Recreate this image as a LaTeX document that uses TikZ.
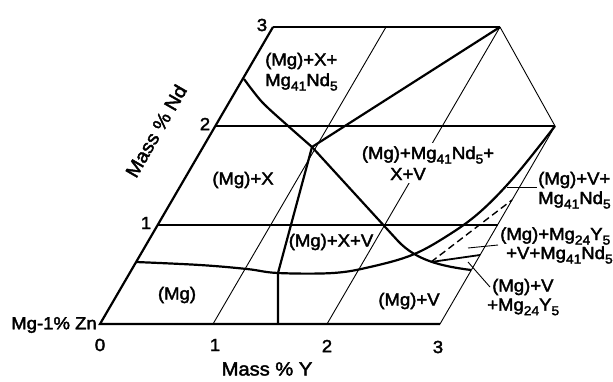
\documentclass[tikz,border=0pt]{standalone}
\usepackage{fontspec}
\setmainfont{Liberation Sans}[FakeStretch=1.06, FakeBold=2.2]
\newcommand\sbs[1]{\raisebox{-4.5pt}{\fontsize{13}{13}\selectfont #1}}
\begin{document}
\begin{tikzpicture}[x=1pt,y=-1pt,
  gridline/.style={line width=0.9pt},
  edgeline/.style={line width=1.3pt},
  bound/.style={line width=2.2pt},
  lbl/.style={font=\fontsize{17.5}{20}\selectfont, inner sep=0pt},
  axt/.style={font=\fontsize{19}{22}\selectfont, inner sep=0pt}]
\useasboundingbox (0,0) rectangle (613,381);
% corners
\coordinate (O) at (100,324);
\coordinate (Y3) at (440,324);
\coordinate (N3) at (273,27);
\coordinate (TR) at (500,27);
\coordinate (R) at (555,126);
% grid
\coordinate (y1b) at (213,324);
\coordinate (y1t) at (386,27);
\coordinate (y2b) at (327,324);
\coordinate (n1l) at (158,225);
\coordinate (n1r) at (498,225);
\coordinate (n2l) at (215,126);
\draw[gridline] (y1b) -- (y1t);
\draw[gridline] (y2b) -- (TR);
\draw[edgeline] (n1l) -- (n1r);
\draw[edgeline] (n2l) -- (R);
\draw[gridline] (TR) -- (R) -- (Y3);
\draw[edgeline] (N3) -- (TR);
% phase boundaries
\coordinate (T) at (312,147);
\coordinate (A) at (244,79);
\coordinate (B) at (278,273);
\coordinate (Bb) at (278,324);
\coordinate (J) at (431,262);
\coordinate (Ej) at (471,270);
\coordinate (Ek) at (480,255);
\coordinate (Ed) at (512,200);
\draw[bound] plot[smooth] coordinates {(A) (262,102) (287,125) (T)};
\draw[bound] (TR) -- (T) -- (B) -- (Bb);
\draw[bound] (T) -- (398,241) .. controls (416,260) and (440,266) .. (Ej);
\draw[bound] plot[smooth, tension=0.6] coordinates {(136,262) (200,265) (247,269) (B) (333,273) (370,267) (412,255) (447,236) (480,212) (515,176) (R)};
\draw[line width=1.4pt, dash pattern=on 7pt off 4pt] (J) -- (Ed);
\draw[line width=1.8pt] (J) -- (Ek);
% outer thick edges
\draw[bound] (N3) -- (O) -- (Y3);
% leaders
\coordinate (l1a) at (507,187); \coordinate (l1b) at (537,187);
\coordinate (l2a) at (468,248); \coordinate (l2b) at (498,245);
\coordinate (l3a) at (468,262); \coordinate (l3b) at (490,287);
\draw[gridline] (l1a) -- (l1b);
\draw[gridline] (l2a) -- (l2b);
\draw[gridline] (l3a) -- (l3b);
% tick labels
\node[lbl] (t3n) at (262,25) {3};
\node[lbl] (t2n) at (205,124) {2};
\node[lbl] (t1n) at (146,223) {1};
\node[lbl] (t0) at (100,345) {0};
\node[lbl] (t1y) at (215,345) {1};
\node[lbl] (t2y) at (327,346) {2};
\node[lbl] (t3y) at (438,347) {3};
\node[axt] (ay) at (267,369) {Mass \% Y};
\node[axt, rotate=60] (an) at (156,131) {Mass \% Nd};
\node[lbl, anchor=east] (mg) at (97,325) {Mg-1\% Zn};
% region labels
\node[lbl] (r1) at (243,180) {(Mg)+X};
\node[lbl] (r2) at (177,295) {(Mg)};
\node[lbl] (r3) at (331,242) {(Mg)+X+V};
\node[lbl] (r4) at (409,301) {(Mg)+V};
\node[lbl, anchor=west] (r5a) at (265,61) {(Mg)+X+};
\node[lbl, anchor=west] (r5b) at (265,82) {Mg\sbs{41}Nd\sbs{5}};
\node[lbl, fill=white, inner sep=3pt] (r6a) at (428,155) {(Mg)+Mg\sbs{41}Nd\sbs{5}+};
\node[lbl, fill=white, inner sep=3pt] (r6b) at (408,174) {X+V};
\node[lbl, anchor=west] (r7a) at (538,180) {(Mg)+V+};
\node[lbl, anchor=west] (r7b) at (538,200) {Mg\sbs{41}Nd\sbs{5}};
\node[lbl, anchor=west] (r8a) at (500,236) {(Mg)+Mg\sbs{24}Y\sbs{5}};
\node[lbl, anchor=west] (r8b) at (506,255) {+V+Mg\sbs{41}Nd\sbs{5}};
\node[lbl, anchor=west] (r9a) at (492,287) {(Mg)+V};
\node[lbl, anchor=west] (r9b) at (487,307) {+Mg\sbs{24}Y\sbs{5}};
\end{tikzpicture}
\end{document}
